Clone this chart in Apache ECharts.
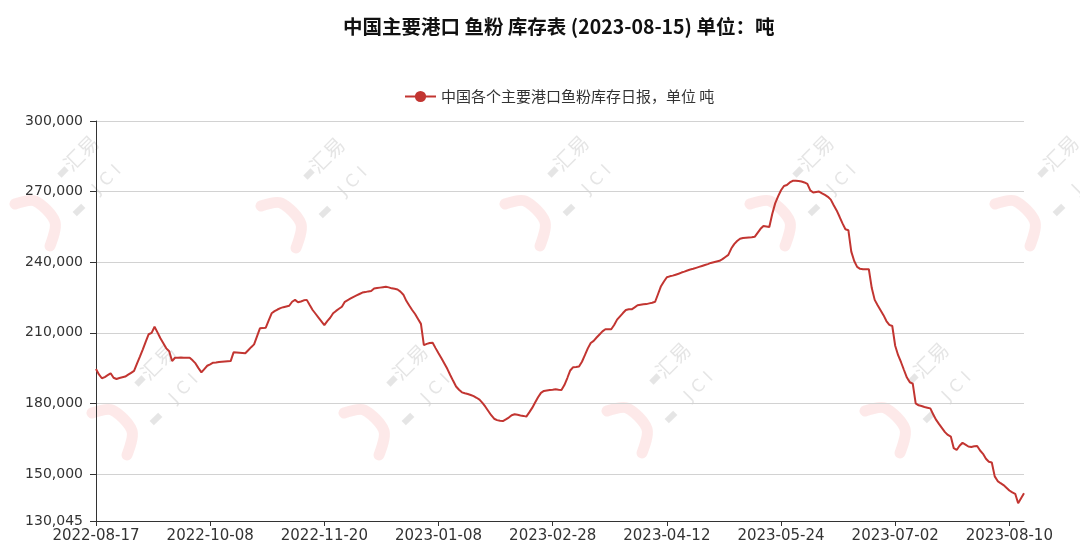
<!DOCTYPE html>
<html>
<head>
<meta charset="utf-8">
<script src="https://cdn.jsdelivr.net/npm/echarts@6/dist/echarts.min.js"></script>
<style>
html,body{margin:0;padding:0;background:#fff;}
#chart{width:1080px;height:554px;}
</style>
</head>
<body>
<div id="chart"></div>
<script>
// ---- data ----
const titleText = '中国主要港口 鱼粉 库存表 (2023-08-15) 单位：吨';
const seriesName = '中国各个主要港口鱼粉库存日报，单位 吨';
// dates shown as x tick labels (one label every 39 data points)
const tickDates = ['2022-08-17','2022-10-08','2022-11-20','2023-01-08','2023-02-28','2023-04-12','2023-05-24','2023-07-02','2023-08-10'];
const lastDate = '2023-08-15';
const pointsPerLabel = 39;
// y-axis bounds and tick values
const yMin = 130045;
const yMax = 300000;
const yTicks = [130045,150000,180000,210000,240000,270000,300000];
// inventory, tonnes
const stock = [
194600,192300,190700,191200,192000,192800,190900,190400,190800,191100,
191400,192200,193000,193800,196900,199900,203000,206300,209400,210000,
212600,210200,207700,205600,203400,202200,198000,199400,199400,199500,
199400,199400,199400,198300,197000,195000,193200,194600,196000,196600,
197300,197400,197600,197700,197800,197900,198000,201700,201600,201500,
201400,201300,202600,203900,205100,208500,211900,212000,212200,215300,
218300,219200,219900,220500,220900,221200,221500,223200,224000,223000,
223300,223800,224000,221800,219700,218100,216500,214900,213300,
215000,216400,218300,219300,220200,221100,223200,223900,224600,225300,
225900,226500,227100,227300,227600,227800,228800,229000,229200,229400,
229600,229300,228900,228700,228400,227500,226200,223600,221600,219700,
218000,215900,213800,204800,205300,205700,205800,203500,201300,
199200,197000,194700,192100,189600,187200,185800,184700,184300,184000,
183600,183100,182400,181600,180200,178600,176800,175000,173500,172900,
172600,172500,173200,174000,175000,175400,175200,174900,174700,174400,
176200,178100,180400,182600,184500,185300,185500,185700,185800,
186000,185800,185700,187800,190800,194000,195400,195500,195700,197700,
200500,203400,205700,206600,208000,209300,210600,211500,211500,211500,
213300,215600,217000,218400,219700,220000,220000,220800,221700,221900,
222100,222200,222500,222800,223200,226500,229800,231800,233600,
234000,234300,234700,235100,235600,236000,236500,236900,237200,237600,
238000,238400,238800,239200,239700,240000,240300,240600,241300,242200,
243100,245800,247700,249000,250000,250300,250400,250500,250600,250800,
252500,254200,255400,255200,255000,260500,265000,268000,270600,
272400,272800,273900,274600,274600,274500,274300,273900,273300,270500,
269600,269800,270000,269300,268600,267800,266600,264200,262000,259300,
256500,254000,253600,244500,240500,238000,237200,237000,237000,237000,
229000,224000,221700,219600,217500,215000,213400,212900,204500,
200500,197500,194200,191000,189000,188400,180000,179200,178900,178500,
178200,177900,175300,173000,171200,169500,167800,166600,165900,161000,
160200,162000,163300,162500,161700,161500,161800,161900,160000,158600,
156500,155200,154900,149000,147000,146100,145300,144200,143000,142200,
141600,137600,139700,141800
];

// ---- category dates ----
function addDays(s, n) {
  const d = new Date(s + 'T00:00:00Z');
  d.setUTCDate(d.getUTCDate() + n);
  return d.toISOString().slice(0, 10);
}
function daysBetween(a, b) {
  return Math.round((Date.parse(b) - Date.parse(a)) / 86400000);
}
const categories = [];
for (let k = 0; k < tickDates.length - 1; k++) {
  const D = daysBetween(tickDates[k], tickDates[k + 1]);
  for (let j = 0; j < pointsPerLabel; j++) categories.push(addDays(tickDates[k], Math.round(j * D / pointsPerLabel)));
}
const tail = daysBetween(tickDates[tickDates.length - 1], lastDate);
for (let j = 0; j <= tail; j++) categories.push(addDays(tickDates[tickDates.length - 1], j));

// ---- watermark decoration ----
const wmPositions = [[93,166],[339,168],[583,166],[828,166],[1073,166],[170,375],[422,375],[685,373],[943,373]];
function watermark(p) {
  const gray = 'rgba(150,150,150,0.25)';
  return {
    type: 'group', x: p[0], y: p[1], silent: true, z: 0,
    children: [
      { type: 'polyline', shape: { points: [[-78,38],[-58,35],[-38,56],[-43,80]], smooth: 0.3 },
        style: { stroke: 'rgba(240,70,70,0.12)', lineWidth: 11, fill: null, lineCap: 'round' } },
      { type: 'rect', x: -30, y: 6, rotation: Math.PI / 4, shape: { x: -5, y: -3, width: 10, height: 6 }, style: { fill: gray } },
      { type: 'rect', x: -14, y: 44, rotation: Math.PI / 4, shape: { x: -6, y: -3, width: 12, height: 6 }, style: { fill: gray } },
      { type: 'text', x: -12, y: -13, rotation: Math.PI / 4,
        style: { text: '汇易', fill: gray, fontSize: 20, fontFamily: 'Noto Sans CJK SC', align: 'center', verticalAlign: 'middle' } },
      { type: 'text', x: 14, y: 14, rotation: Math.PI / 4,
        style: { text: 'J C I', fill: gray, fontSize: 17, fontFamily: 'DejaVu Sans', align: 'center', verticalAlign: 'middle' } }
    ]
  };
}

const chart = echarts.init(document.getElementById('chart'), null, { renderer: 'canvas' });
chart.setOption({
  animation: false,
  backgroundColor: '#ffffff',
  title: {
    text: titleText,
    left: 338, top: 12,
    textStyle: { fontSize: 19.5, fontWeight: 'bold', color: '#111', fontFamily: 'Noto Sans CJK SC' }
  },
  legend: {
    data: [seriesName],
    left: 399, top: 84,
    itemWidth: 31, itemHeight: 14, itemGap: 10,
    textStyle: { fontSize: 15, color: '#333', fontFamily: 'Noto Sans CJK SC' }
  },
  graphic: { elements: wmPositions.map(watermark) },
  grid: { left: 96, right: 56, top: 121, bottom: 33, containLabel: false },
  xAxis: {
    type: 'category',
    data: categories,
    boundaryGap: false,
    axisLine: { lineStyle: { color: '#333', width: 1 } },
    axisTick: { show: true, interval: pointsPerLabel - 1, length: 5, lineStyle: { color: '#333' } },
    axisLabel: { interval: pointsPerLabel - 1, color: '#333', fontSize: 15, fontFamily: 'DejaVu Sans', margin: 8 },
    splitLine: { show: false }
  },
  yAxis: {
    type: 'value',
    min: yMin, max: yMax,
    axisLine: { show: true, lineStyle: { color: '#333', width: 1 } },
    axisTick: { show: true, length: 6, customValues: yTicks, lineStyle: { color: '#333' } },
    axisLabel: { customValues: yTicks, color: '#333', fontSize: 14, fontFamily: 'DejaVu Sans', margin: 13,
      formatter: v => Math.round(v).toLocaleString('en-US') },
    splitLine: { show: true, lineStyle: { color: '#d2d2d2', width: 1 } }
  },
  series: [{
    name: seriesName,
    type: 'line',
    data: stock,
    symbol: 'circle',
    symbolSize: 8,
    showSymbol: false,
    itemStyle: { color: '#c23531' },
    lineStyle: { color: '#c23531', width: 2 },
    z: 5
  }]
});
</script>
</body>
</html>
